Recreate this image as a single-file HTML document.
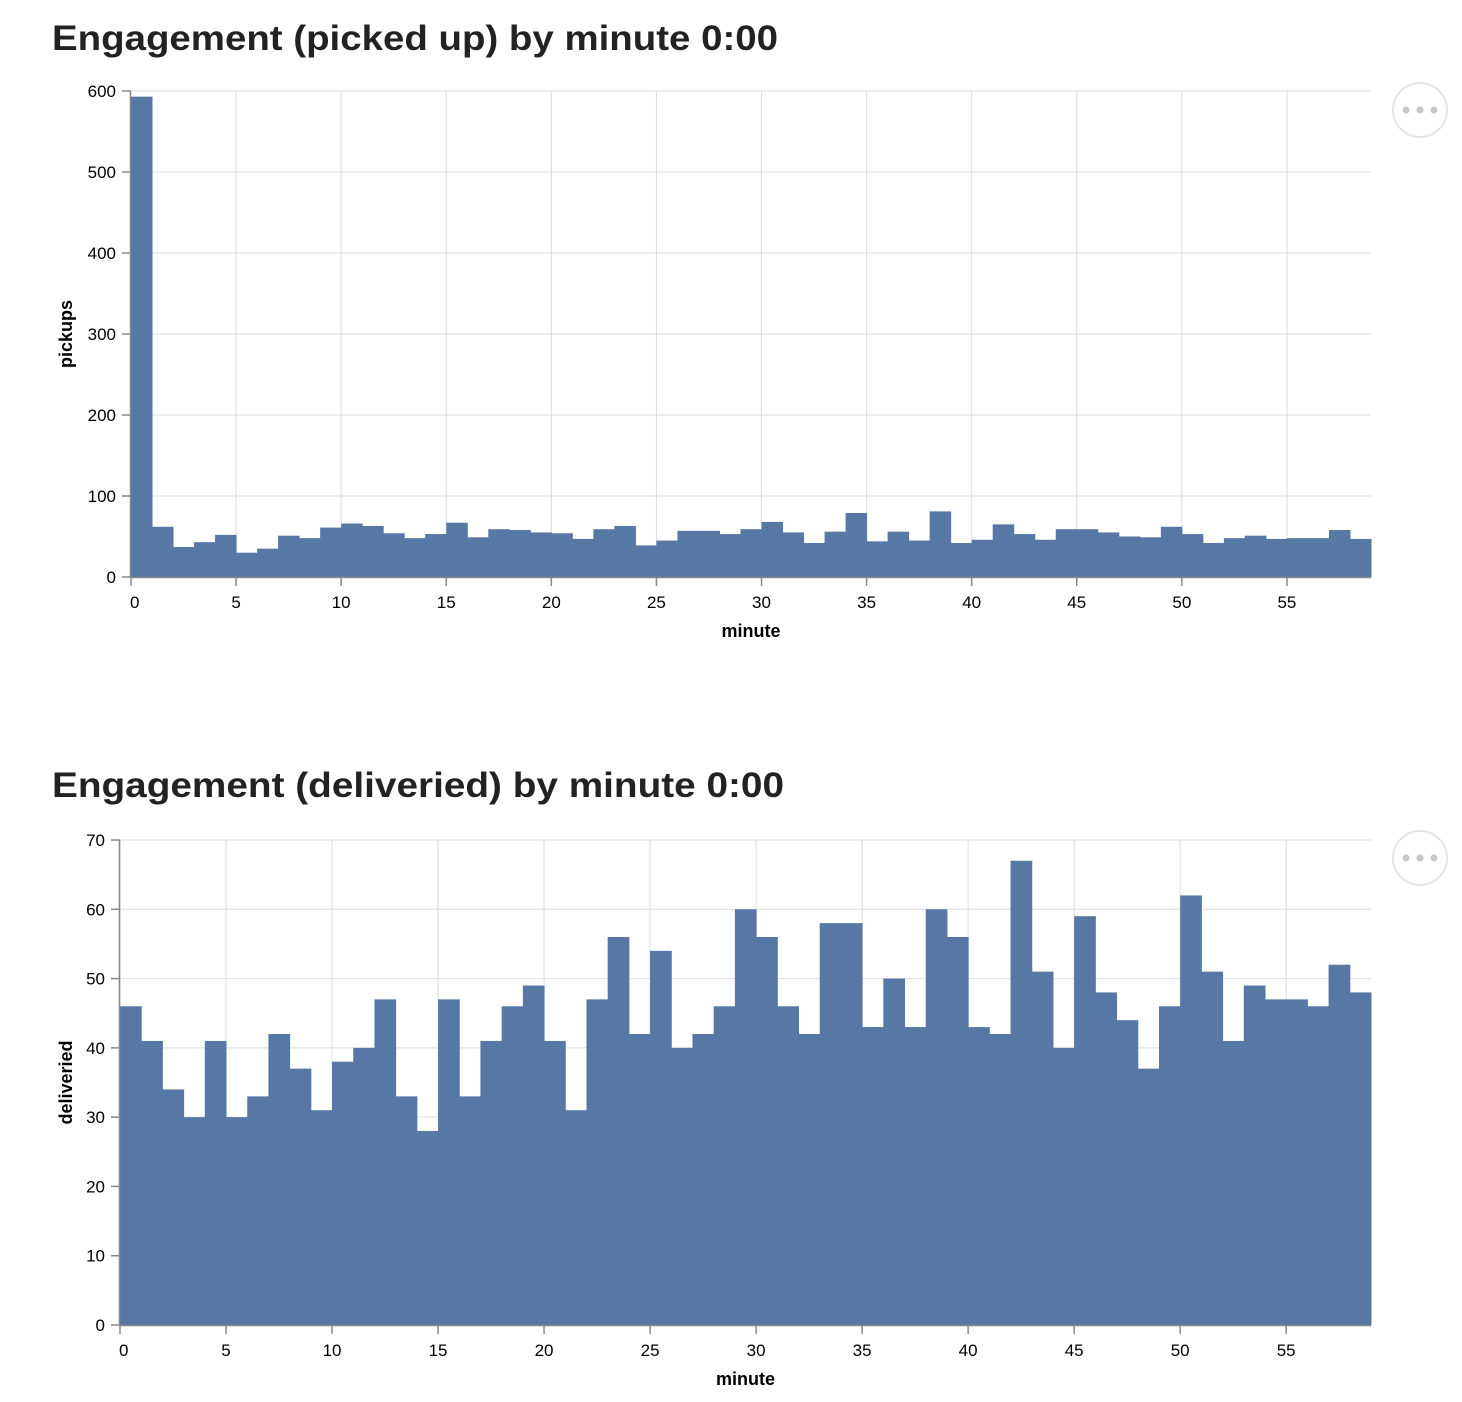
<!DOCTYPE html>
<html><head><meta charset="utf-8"><style>
body{margin:0;background:#fff;width:1462px;height:1402px;overflow:hidden}
svg{display:block;font-family:"Liberation Sans",sans-serif}
</style></head><body>
<svg id="s" width="1462" height="1402"></svg>
<script>
const pickups=[593,62,37,43,52,30,35,51,48,61,66,63,54,48,53,67,49,59,58,55,54,47,59,63,39,45,57,57,53,59,68,55,42,56,79,44,56,45,81,42,46,65,53,46,59,59,55,50,49,62,53,42,48,51,47,48,48,58,47];
const delivered=[46,41,34,30,41,30,33,42,37,31,38,40,47,33,28,47,33,41,46,49,41,31,47,56,42,54,40,42,46,60,56,46,42,58,58,43,50,43,60,56,43,42,67,51,40,59,48,44,37,46,62,51,41,49,47,47,46,52,48];
const xTicks=[0,5,10,15,20,25,30,35,40,45,50,55];
const yTicks1=[0,100,200,300,400,500,600];
const yTicks2=[0,10,20,30,40,50,60,70];
const NS="http://www.w3.org/2000/svg";
const svg=document.getElementById('s');
function el(tag,attrs,parent,text){const e=document.createElementNS(NS,tag);for(const k in attrs)e.setAttribute(k,attrs[k]);if(text!==undefined)e.textContent=text;(parent||svg).appendChild(e);return e;}
function chart(cfg){
  const g=el('g',{});
  
  
  const t=el('text',{x:52,y:cfg.titleY,'font-size':35,fill:'#222','font-weight':'bold',textLength:cfg.titleLen,lengthAdjust:'spacingAndGlyphs'},g,cfg.title);
  
  
  const xs=v=>cfg.x0+(v/59)*(cfg.x1-cfg.x0);
  const ys=v=>cfg.y0-(v/cfg.ymax)*(cfg.y0-cfg.y1);
  for(const v of cfg.yt){
    const gl=el('line',{x1:cfg.x0,x2:cfg.x1,y1:ys(v),y2:ys(v),stroke:'#ddd'},g);
    
    
  }
  for(const v of xTicks){
    const gl=el('line',{x1:xs(v),x2:xs(v),y1:cfg.y1,y2:cfg.y0,stroke:'#ddd'},g);
    
    
  }
  cfg.data.forEach((v,i)=>{
    const r=el('rect',{x:xs(i),y:ys(v),width:xs(i+1)-xs(i)+0.5,height:cfg.y0-ys(v),fill:'#5778a4'},g);
    
    
  });
  el('line',{x1:cfg.x0,x2:cfg.x1,y1:cfg.y0+0.5,y2:cfg.y0+0.5,stroke:'#888','stroke-width':1.5},g);
  el('line',{x1:cfg.x0-0.5,x2:cfg.x0-0.5,y1:cfg.y1,y2:cfg.y0,stroke:'#888','stroke-width':1.5},g);
  for(const v of cfg.yt){
    el('line',{x1:cfg.x0-9,x2:cfg.x0,y1:ys(v),y2:ys(v),stroke:'#888','stroke-width':1.5},g);
    const l=el('text',{x:cfg.x0-15,y:ys(v)+6,'font-size':17,'text-anchor':'end',fill:'#000'},g,v);
    
    
  }
  for(const v of xTicks){
    el('line',{x1:xs(v),x2:xs(v),y1:cfg.y0,y2:cfg.y0+9,stroke:'#888','stroke-width':1.5},g);
    const l=el('text',{x:v===0?xs(v)-1:xs(v),y:cfg.y0+31,'font-size':17,'text-anchor':v===0?'start':'middle',fill:'#000'},g,v);
    
    
  }
  const xt=el('text',{x:(cfg.x0+cfg.x1)/2,y:cfg.y0+60,'font-size':18,'font-weight':'bold','text-anchor':'middle'},g,'minute');
  
  
  const cy=(cfg.y0+cfg.y1)/2;
  const yt=el('text',{x:72,y:cy,'font-size':18,'font-weight':'bold','text-anchor':'middle',transform:`rotate(-90 72 ${cy})`},g,cfg.ytitle);
  
  
  const m=el('g',{},g);
  
  
  el('circle',{cx:1420,cy:cfg.menuY,r:27,fill:'#fff',stroke:'#e6e6e6','stroke-width':2},m);
  for(const dx of [-14,0,14]) el('circle',{cx:1420+dx,cy:cfg.menuY,r:3.6,fill:'#c8c8c8'},m);
}
chart({name:'pickups-chart',title:'Engagement (picked up) by minute 0:00',titleLen:726,titleY:50,x0:131,x1:1371,y0:577,y1:91,ymax:600,yt:yTicks1,data:pickups,ytitle:'pickups',menuY:110});
chart({name:'delivered-chart',title:'Engagement (deliveried) by minute 0:00',titleLen:732,titleY:797,x0:120,x1:1371,y0:1325,y1:840,ymax:70,yt:yTicks2,data:delivered,ytitle:'deliveried',menuY:858});
</script>
</body></html>
